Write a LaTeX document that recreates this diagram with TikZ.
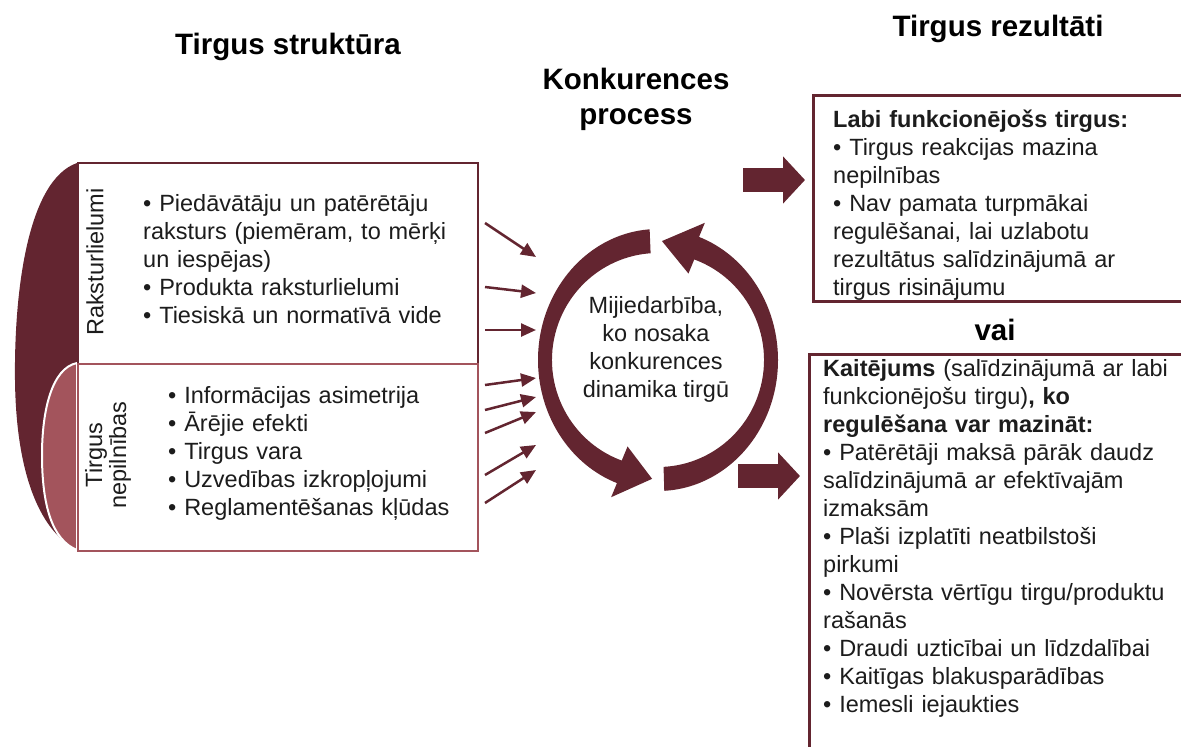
\documentclass[tikz,border=0pt]{standalone}
\usepackage{fontspec}
\setmainfont{Liberation Sans}
\usetikzlibrary{arrows.meta, positioning}

\definecolor{vinous}{RGB}{99,37,48}
\definecolor{rose}{RGB}{163,84,92}
\definecolor{ink}{RGB}{28,28,28}

\begin{document}
\begin{tikzpicture}[
        x=1pt, y=-1pt,
        every node/.style={inner sep=0pt, text=ink, font=\fontsize{23.5}{28}\selectfont},
        heading/.style={font=\fontsize{29.5}{35}\selectfont\bfseries, align=center, text=black},
        box/.style={draw=vinous, line width=2pt, fill=white, anchor=north west},
        list/.style={anchor=base west, align=left, text width=345pt},
        feed/.style={-{Triangle[length=15pt, width=13pt]}, line width=2.5pt, draw=vinous},
        push/.style={-{Triangle[length=22pt, width=46pt]}, line width=24pt, draw=vinous}
    ]

    \useasboundingbox (0,0) rectangle (1181,747);
    \clip (0,0) rectangle (1181,747);

    % bands on the left of the structure boxes
    \fill[vinous] (77,163) .. controls (28,180) and (14,290) .. (15,380)
        .. controls (16,470) and (38,530) .. (77,550) -- cycle;
    \filldraw[fill=rose, draw=white, line width=2pt] (77,363) .. controls (52,368) and (42,410) .. (42,455)
        .. controls (42,505) and (52,540) .. (77,550) -- cycle;

    % market structure
    \node[box, minimum width=400pt, minimum height=201pt] (traits) at (77,162) {};
    \node[box, draw=rose, minimum width=400pt, minimum height=187pt] (flaws) at (77,363) {};

    \node[rotate=90] (traitslabel) at (95,262) {Raksturlielumi};
    \node[rotate=90, align=center, font=\fontsize{23.5}{24}\selectfont] (flawslabel) at (108,455) {Tirgus\\nepilnības};

    \node[list] (traitslist) at (143,211) {• Piedāvātāju un patērētāju\\
        raksturs (piemēram, to mērķi\\
        un iespējas)\\
        • Produkta raksturlielumi\\
        • Tiesiskā un normatīvā vide};
    \node[list] (flawslist) at (168,403) {• Informācijas asimetrija\\
        • Ārējie efekti\\
        • Tirgus vara\\
        • Uzvedības izkropļojumi\\
        • Reglamentēšanas kļūdas};

    % market outcomes
    \node[box, line width=2.5pt, minimum width=400pt, minimum height=206pt] (sound) at (812,94) {};
    \node[box, line width=2.5pt, minimum width=400pt, minimum height=420pt] (harm) at (808,353) {};

    \node[list] (soundlist) at (833,127) {\textbf{Labi funkcionējošs tirgus:}\\
        • Tirgus reakcijas mazina\\
        nepilnības\\
        • Nav pamata turpmākai\\
        regulēšanai, lai uzlabotu\\
        rezultātus salīdzinājumā ar\\
        tirgus risinājumu};
    \node[list] (harmlist) at (823,376) {\textbf{Kaitējums} (salīdzinājumā ar labi\\
        funkcionējošu tirgu)\textbf{, ko}\\
        \textbf{regulēšana var mazināt:}\\
        • Patērētāji maksā pārāk daudz\\
        salīdzinājumā ar efektīvajām\\
        izmaksām\\
        • Plaši izplatīti neatbilstoši\\
        pirkumi\\
        • Novērsta vērtīgu tirgu/produktu\\
        rašanās\\
        • Draudi uzticībai un līdzdalībai\\
        • Kaitīgas blakusparādības\\
        • Iemesli iejaukties};

    % headings (base of a two-line node is its last line)
    \node[heading, anchor=base] (structure) at (288,54) {Tirgus struktūra};
    \node[heading, anchor=base] (process) at (636,124) {Konkurences\\process};
    \node[heading, anchor=base] (outcome) at (998,36) {Tirgus rezultāti};
    \node[heading, anchor=base] (either) at (995,340) {vai};

    % competition cycle
    \begin{scope}[shift={(658,360)}]
      \fill[vinous] (94:120pt and 131pt) arc[start angle=94, end angle=250, x radius=120pt, y radius=131pt]
        -- (250:137pt and 146pt) -- (267:113pt and 119pt) -- (250:89pt and 92pt)
        -- (250:106pt and 107pt) arc[start angle=250, end angle=94, x radius=106pt, y radius=107pt] -- cycle;
      \fill[vinous] (273:120pt and 131pt) arc[start angle=273, end angle=430, x radius=120pt, y radius=131pt]
        -- (70:137pt and 146pt) -- (88:113pt and 119pt) -- (70:89pt and 92pt)
        -- (70:106pt and 107pt) arc[start angle=430, end angle=273, x radius=106pt, y radius=107pt] -- cycle;
    \end{scope}
    \node[align=center] (dynamics) at (656,349) {Mijiedarbība,\\ko nosaka\\konkurences\\dinamika tirgū};

    % factors feeding the cycle
    \foreach \ya/\yb [count=\k] in {223/257, 287/293, 330/330, 385/378, 410/397, 433/412, 475/445, 503/470} {
        \coordinate (feedtail\k) at (485,\ya);
        \coordinate (feedhead\k) at (536,\yb);
        \draw[feed] (feedtail\k) -- (feedhead\k);
    }

    % results
    \coordinate (goodout) at (743,180);
    \coordinate (badout) at (738,476);
    \draw[push, shorten >=7pt] (goodout) -- (sound.west |- goodout);
    \draw[push, shorten >=8pt] (badout) -- (harm.west |- badout);
\end{tikzpicture}
\end{document}
